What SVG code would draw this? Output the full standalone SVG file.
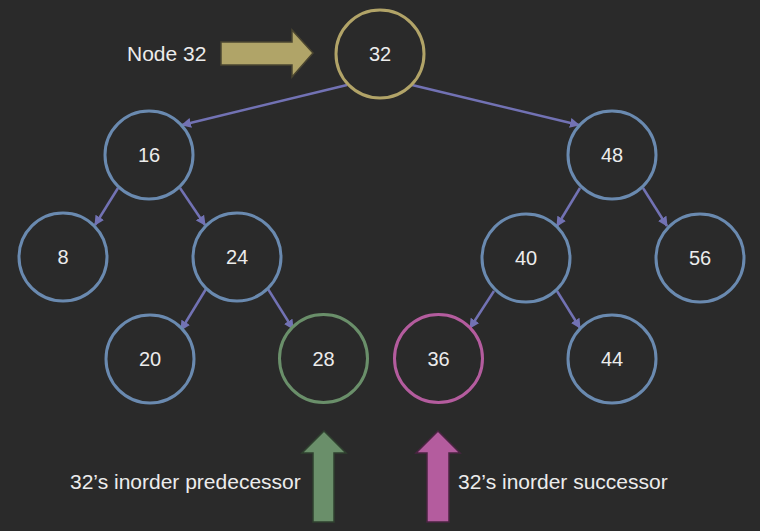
<svg xmlns="http://www.w3.org/2000/svg" width="760" height="531" viewBox="0 0 760 531">
<defs>
<marker id="ah" viewBox="0 0 10 10" refX="9" refY="5" markerWidth="4" markerHeight="4" orient="auto" markerUnits="strokeWidth">
<path d="M0,0 L10,5 L0,10 z" fill="#7272b4"/>
</marker>
<style>
.n{fill:#2a2a2a;stroke:#6a8ab0;stroke-width:3}
.g{stroke:#b2a468}
.gr{stroke:#6a8f6a}
.pk{stroke:#b45c9e}
.t{font-family:"Liberation Sans",Arial,sans-serif;font-size:20px;fill:#ececec;text-anchor:middle}
.l{font-family:"Liberation Sans",Arial,sans-serif;font-size:21px;fill:#ececec}
.e{stroke:#7272b4;stroke-width:2.5;fill:none;marker-end:url(#ah)}
</style>
</defs>
<rect width="760" height="531" fill="#2a2a2a"/>
<g id="connectors">
<line class="e" x1="347" y1="85" x2="182" y2="125"/>
<line class="e" x1="412" y1="85" x2="579" y2="125"/>
<line class="e" x1="118" y1="188" x2="95" y2="225"/>
<line class="e" x1="180" y1="188" x2="205" y2="225"/>
<line class="e" x1="206" y1="289" x2="181" y2="330"/>
<line class="e" x1="268" y1="289" x2="293" y2="329"/>
<line class="e" x1="580" y1="188" x2="557" y2="226"/>
<line class="e" x1="643" y1="188" x2="667" y2="226"/>
<line class="e" x1="494" y1="291" x2="470" y2="328"/>
<line class="e" x1="557" y1="291" x2="580" y2="328"/>
</g>
<g id="n32"><circle class="n g" cx="380" cy="54" r="44"/><text class="t" x="380" y="61">32</text></g>
<g id="n16"><circle class="n" cx="149" cy="155" r="44"/><text class="t" x="149" y="162">16</text></g>
<g id="n48"><circle class="n" cx="612" cy="155" r="44"/><text class="t" x="612" y="162">48</text></g>
<g id="n8"><circle class="n" cx="63" cy="257" r="44"/><text class="t" x="63" y="264">8</text></g>
<g id="n24"><circle class="n" cx="237" cy="257" r="44"/><text class="t" x="237" y="264">24</text></g>
<g id="n40"><circle class="n" cx="526" cy="258" r="44"/><text class="t" x="526" y="265">40</text></g>
<g id="n56"><circle class="n" cx="700" cy="258" r="44"/><text class="t" x="700" y="265">56</text></g>
<g id="n20"><circle class="n" cx="150" cy="359" r="44"/><text class="t" x="150" y="366">20</text></g>
<g id="n28"><circle class="n gr" cx="323.5" cy="358.5" r="44"/><text class="t" x="323.5" y="366">28</text></g>
<g id="n36"><circle class="n pk" cx="438.5" cy="358.5" r="44"/><text class="t" x="438.5" y="366">36</text></g>
<g id="n44"><circle class="n" cx="612" cy="359" r="44"/><text class="t" x="612" y="366">44</text></g>
<g id="label-node32">
<text class="l" x="127" y="61">Node 32</text>
<path d="M221,42 L292,42 L292,30 L313,53 L292,77 L292,65 L221,65 z" fill="#b0a468" stroke="#4a4530" stroke-width="1.5"/>
</g>
<g id="label-pred">
<text class="l" x="70" y="489">32’s inorder predecessor</text>
<path d="M313,522 L313,453 L302,453 L324,431 L346,453 L334,453 L334,522 z" fill="#6a8f6a" stroke="#2f402f" stroke-width="1.5"/>
</g>
<g id="label-succ">
<path d="M427,522 L427,453 L416,453 L438,431 L460,453 L449,453 L449,522 z" fill="#b45c9e" stroke="#4a2442" stroke-width="1.5"/>
<text class="l" x="458" y="489">32’s inorder successor</text>
</g>
</svg>
